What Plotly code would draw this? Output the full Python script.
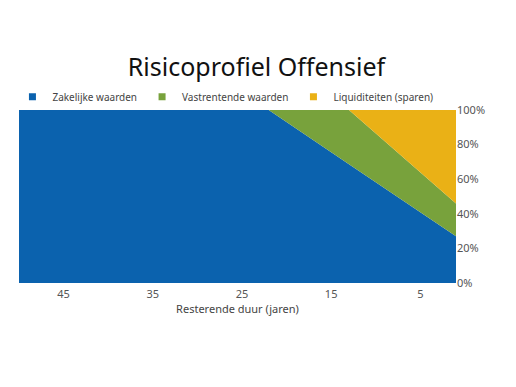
import plotly.graph_objects as go

years = [50, 22, 13, 1]
zakelijk = [100, 100, 68.7, 27]
vastrentend = [0, 0, 31.3, 19]
liquiditeiten = [0, 0, 0, 54]

names = ["Zakelijke waarden", "Vastrentende waarden", "Liquiditeiten (sparen)"]
colors = ["#0B62AE", "#78A23C", "#EAB116"]
series = [zakelijk, vastrentend, liquiditeiten]

x_ticks = [45, 35, 25, 15, 5]
y_ticks = [0, 20, 40, 60, 80, 100]
y_ticktext = [f"{v}%" for v in y_ticks]

fig = go.Figure()
for name, col, vals in zip(names, colors, series):
    fig.add_trace(go.Scatter(x=years, y=vals, name=name, mode="none", stackgroup="one",
                             fillcolor=col, line=dict(width=0), showlegend=False,
                             hoverinfo="skip"))
for name, col in zip(names, colors):
    fig.add_trace(go.Scatter(x=[None], y=[None], name=name, mode="markers",
                             marker=dict(symbol="square", size=7, color=col),
                             showlegend=True))

fig.update_layout(
    width=516, height=387,
    margin=dict(l=11, r=68, t=102, b=112, autoexpand=False),
    paper_bgcolor="white", plot_bgcolor="white",
    font=dict(family="Noto Sans", color="#555555", size=10),
    title=dict(text="Risicoprofiel Offensief", x=0.4816, xanchor="center", y=0.848, yanchor="middle",
               font=dict(family="Noto Sans", size=25, color="#111111")),
    legend=dict(orientation="h", x=-0.015, y=1.077, xanchor="left", yanchor="middle",
                font=dict(size=10, color="#444444"), itemwidth=30, traceorder="normal",
                bgcolor="rgba(0,0,0,0)"),
    xaxis=dict(range=[50, 1], tickvals=x_ticks, showgrid=False, zeroline=False,
               showline=False, ticks="", tickfont=dict(size=11, color="#555555"),
               ticklabelstandoff=3,
               title=dict(text="Resterende duur (jaren)", font=dict(size=11, color="#444444"), standoff=2)),
    yaxis=dict(range=[0, 100], side="right", tickvals=y_ticks, ticktext=y_ticktext,
               showgrid=False, zeroline=False, showline=False, ticks="",
               tickfont=dict(size=11, color="#555555")),
)

fig.write_html("out.html")
